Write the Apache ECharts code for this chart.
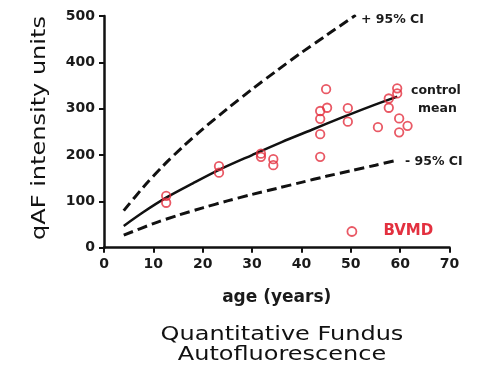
<!DOCTYPE html>
<html>
<head>
<meta charset="utf-8">
<script src="https://cdn.jsdelivr.net/npm/echarts@6/dist/echarts.min.js"></script>
<style>html,body{margin:0;padding:0;background:#fff;}#c{width:495px;height:374px;}</style>
</head>
<body>
<div id="c"></div>
<script>
// BVMD patients: age (years) and qAF
var bvmdAge = [12.6, 12.6, 23.3, 23.3, 31.8, 31.8, 34.3, 34.3, 43.8, 43.8, 43.8, 43.8, 45.0, 45.2, 49.4, 49.4, 55.5, 57.7, 57.7, 59.4, 59.4, 59.8, 59.8, 61.5];
var bvmdQaf = [112, 97, 176, 162, 203, 196, 191, 178, 295, 278, 245, 196, 342, 302, 301, 272, 260, 322, 302, 344, 333, 279, 249, 263];
// control mean curve
var meanAge = [4, 8, 12.6, 18, 23.3, 30, 36, 42, 48, 54, 59.4];
var meanQaf = [47, 77, 108, 139, 168, 200, 228, 254, 280, 305, 326];
// +95% CI curve
var upperAge = [4, 8, 12, 16, 20, 25, 30, 35, 40, 45, 51];
var upperQaf = [80, 131, 177, 218, 256, 300, 342, 382, 421, 458, 502];
// -95% CI curve
var lowerAge = [4, 10, 15, 20, 25, 30, 35, 40, 45, 50, 55, 59.4];
var lowerQaf = [27, 52, 70, 86, 101, 115, 128, 141, 154, 166, 178, 189];
var xTicks = [0, 10, 20, 30, 40, 50, 60, 70];
var yTicks = [0, 100, 200, 300, 400, 500];

function pairs(a, b) { return a.map(function (v, i) { return [v, b[i]]; }); }

var RED = '#e3303f';
var chart = echarts.init(document.getElementById('c'));
var tickFont = { fontFamily: 'DejaVu Sans', fontWeight: 'bold', fontSize: 14, color: '#1a1a1a' };
chart.setOption({
  animation: false,
  grid: { left: 104, top: 16, right: 45.5, bottom: 126.3 },
  legend: {
    left: 346.5, top: 224, padding: 0,
    itemWidth: 9, itemHeight: 9,
    data: [{ name: 'BVMD', icon: 'circle', itemStyle: { color: '#fff', borderColor: RED, borderWidth: 1.8 } }],
    textStyle: { color: RED, fontFamily: 'DejaVu Sans', fontWeight: 'bold', fontSize: 15, padding: [0, 0, 0, 22] }
  },
  xAxis: {
    type: 'value', min: xTicks[0], max: xTicks[xTicks.length - 1], interval: 10,
    axisLine: { lineStyle: { color: '#111', width: 2.5 } },
    axisTick: { length: 5, lineStyle: { color: '#111', width: 2 } },
    splitLine: { show: false },
    axisLabel: Object.assign({ margin: 10 }, tickFont),
    name: 'age (years)', nameLocation: 'middle', nameGap: 41,
    nameTextStyle: { fontFamily: 'DejaVu Sans', fontWeight: 'bold', fontSize: 17, color: '#1a1a1a' }
  },
  yAxis: {
    type: 'value', min: yTicks[0], max: yTicks[yTicks.length - 1], interval: 100,
    axisLine: { show: true, lineStyle: { color: '#111', width: 2.5 } },
    axisTick: { show: true, length: 5, lineStyle: { color: '#111', width: 2 } },
    splitLine: { show: false },
    axisLabel: Object.assign({ margin: 9 }, tickFont)
  },
  series: [
    { type: 'line', name: '+95% CI', data: pairs(upperAge, upperQaf), smooth: 0.3, showSymbol: false,
      lineStyle: { color: '#111', width: 3, type: [10, 5] }, z: 2 },
    { type: 'line', name: 'control mean', data: pairs(meanAge, meanQaf), smooth: 0.3, showSymbol: false,
      lineStyle: { color: '#111', width: 2.5 }, z: 2 },
    { type: 'line', name: '-95% CI', data: pairs(lowerAge, lowerQaf), smooth: 0.3, showSymbol: false,
      lineStyle: { color: '#111', width: 3, type: [10, 5] }, z: 2 },
    { type: 'scatter', name: 'BVMD', data: pairs(bvmdAge, bvmdQaf), symbol: 'circle', symbolSize: 8.5,
      itemStyle: { color: 'rgba(255,255,255,0)', borderColor: RED, borderWidth: 1.8 }, z: 3 }
  ],
  graphic: [
    { type: 'text', x: 40, y: 128, rotation: Math.PI / 2, scaleX: 1.2,
      style: { text: 'qAF intensity units', font: '20px "DejaVu Sans"', fill: '#111', textAlign: 'center', textVerticalAlign: 'middle' } },
    { type: 'text', x: 282, y: 335, scaleX: 1.2,
      style: { text: 'Quantitative Fundus', font: '20px "DejaVu Sans"', fill: '#111', textAlign: 'center', textVerticalAlign: 'middle' } },
    { type: 'text', x: 282, y: 355, scaleX: 1.2,
      style: { text: 'Autofluorescence', font: '20px "DejaVu Sans"', fill: '#111', textAlign: 'center', textVerticalAlign: 'middle' } },
    { type: 'text', x: 361, y: 20,
      style: { text: '+ 95% CI', font: 'bold 12.5px "DejaVu Sans"', fill: '#1a1a1a', textVerticalAlign: 'middle' } },
    { type: 'text', x: 411, y: 91,
      style: { text: 'control', font: 'bold 12.5px "DejaVu Sans"', fill: '#1a1a1a', textVerticalAlign: 'middle' } },
    { type: 'text', x: 418, y: 109,
      style: { text: 'mean', font: 'bold 12.5px "DejaVu Sans"', fill: '#1a1a1a', textVerticalAlign: 'middle' } },
    { type: 'text', x: 405, y: 162,
      style: { text: '- 95% CI', font: 'bold 12.5px "DejaVu Sans"', fill: '#1a1a1a', textVerticalAlign: 'middle' } }
  ]
});
</script>
</body>
</html>
